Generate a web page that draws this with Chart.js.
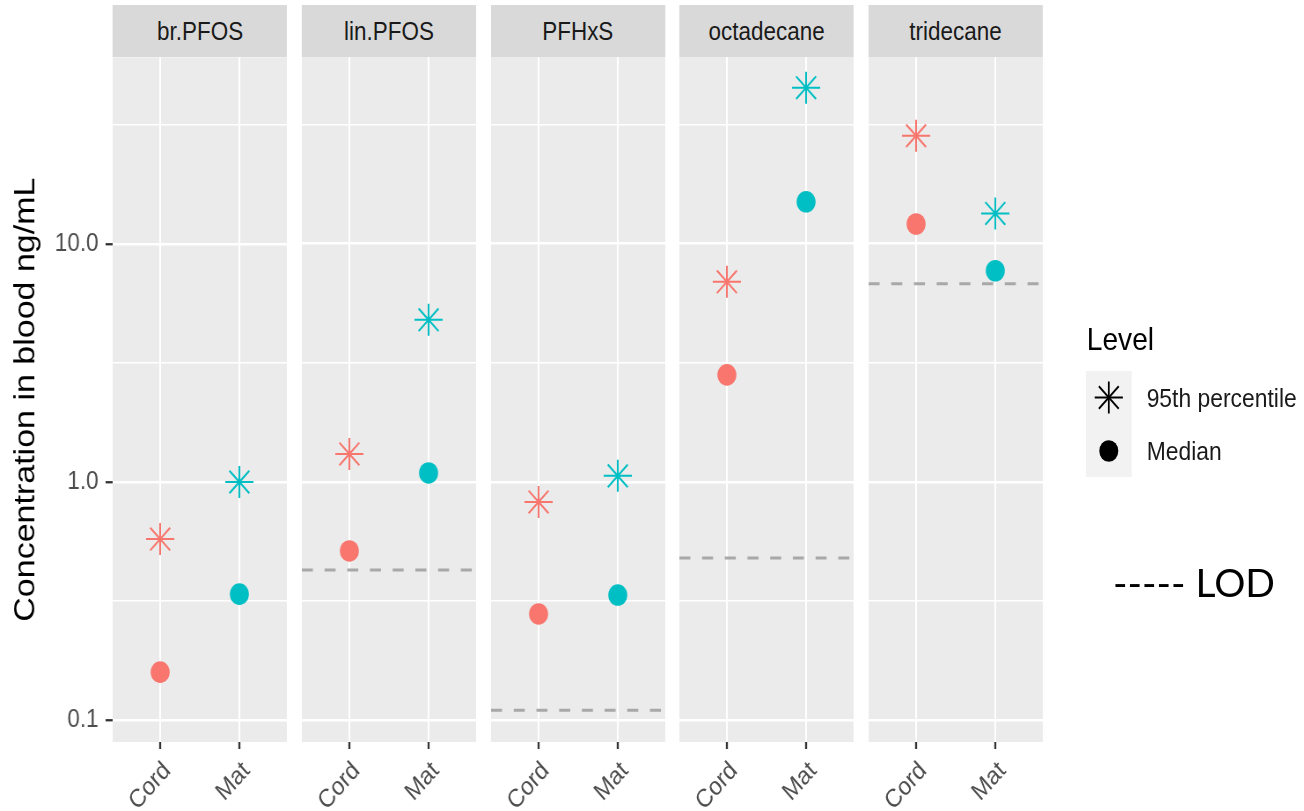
<!DOCTYPE html>
<html><head><meta charset="utf-8">
<script src="https://cdn.jsdelivr.net/npm/chart.js@4.4.1/dist/chart.umd.min.js"></script>
<style>
html,body{margin:0;padding:0;background:#fff;width:1304px;height:811px;overflow:hidden;}
#wrap{position:absolute;left:0;top:0;width:1482px;height:811px;transform:scaleX(0.88);transform-origin:0 0;font-family:"Liberation Sans",Arial,sans-serif;}
.strip{position:absolute;top:5px;height:52px;background:#D9D9D9;color:#1A1A1A;font-size:25.5px;display:flex;align-items:center;justify-content:center;}
canvas{position:absolute;}
.txt{position:absolute;white-space:nowrap;}
#lod{position:absolute;left:1113px;top:557px;line-height:50px;font-family:Lato,"Noto Sans",sans-serif;font-size:39px;color:#000;white-space:pre;}
</style></head>
<body>
<div id="wrap">
  <div class="txt" style="left:1235px;top:321px;line-height:36px;font-size:32px;color:#000;">Level</div>
  <div style="position:absolute;left:1234px;top:371px;width:52px;height:106px;background:#F2F2F2;"></div>
  <svg style="position:absolute;left:1234px;top:371px;" width="52" height="106">
    <g stroke="#000" stroke-width="2">
      <line x1="10" y1="26.5" x2="42" y2="26.5"/>
      <line x1="26" y1="10.5" x2="26" y2="42.5"/>
      <line x1="14.7" y1="15.2" x2="37.3" y2="37.8"/>
      <line x1="14.7" y1="37.8" x2="37.3" y2="15.2"/>
    </g>
    <ellipse cx="26" cy="80" rx="10.8" ry="10.8" fill="#000"/>
  </svg>
  <div class="txt" style="left:1303px;top:383px;line-height:30px;font-size:26px;color:#1A1A1A;">95th percentile</div>
  <div class="txt" style="left:1303px;top:436px;line-height:30px;font-size:26px;color:#1A1A1A;">Median</div>
</div>
<div id="lod">----- LOD</div>
<script>
// ---- data ----
const analytes = ['br.PFOS', 'lin.PFOS', 'PFHxS', 'octadecane', 'tridecane'];
const groups = ['Cord', 'Mat'];
const p95Cord = [0.576, 1.31, 0.824, 6.92, 28.4];
const p95Mat  = [1.0, 4.79, 1.06, 45.2, 13.4];
const medCord = [0.159, 0.513, 0.279, 2.815, 12.1];
const medMat  = [0.338, 1.09, 0.335, 15.0, 7.70];
const lod     = [null, 0.427, 0.110, 0.479, 6.79];
const yTicks = [0.1, 0.31623, 1, 3.1623, 10, 31.623];
const yTickLabels = ['0.1', '', '1.0', '', '10.0', ''];
const yMin = 0.0809, yMax = 60.8;
const groupColors = ['#F8766D', '#00BFC4'];
const yTitle = 'Concentration in blood ng/mL';

// ---- layout ----
const FONT = '"Liberation Sans", Arial, sans-serif';
const panelLeft0 = 128.4, panelStep = 214.6, panelW = 198;
const plotTop = 57, plotBottom = 742, xAxisH = 69, yAxisW = 128;
const wrap = document.getElementById('wrap');

const panelBg = {
  id: 'panelBg',
  beforeDraw(chart) {
    const a = chart.chartArea, c = chart.ctx;
    c.save(); c.fillStyle = '#EBEBEB';
    c.fillRect(a.left, a.top, a.right - a.left, a.bottom - a.top);
    c.restore();
  }
};

function makeConfig(i, first) {
  const isMajor = idx => yTickLabels[idx] !== '';
  return {
    type: 'scatter',
    data: {
      datasets: [
        {
          label: 'LOD',
          data: lod[i] == null ? [] : [{x: 0.4, y: lod[i]}, {x: 2.6, y: lod[i]}],
          showLine: true, borderColor: '#A8A8A8', borderWidth: 3, borderDash: [12.5, 13.3],
          pointRadius: 0, fill: false, order: 3
        },
        {
          label: '95th percentile',
          data: [{x: 1, y: p95Cord[i]}, {x: 2, y: p95Mat[i]}],
          pointStyle: 'star', pointRadius: 16, pointBorderWidth: 2,
          pointBorderColor: groupColors, pointBackgroundColor: groupColors,
          borderColor: groupColors, order: 2
        },
        {
          label: 'Median',
          data: [{x: 1, y: medCord[i]}, {x: 2, y: medMat[i]}],
          pointStyle: 'circle', pointRadius: 10.8, pointBorderWidth: 0,
          pointBorderColor: groupColors, pointBackgroundColor: groupColors,
          borderColor: groupColors, order: 1
        }
      ]
    },
    options: {
      responsive: false, maintainAspectRatio: false, animation: false, events: [],
      layout: {padding: 0},
      plugins: {legend: {display: false}, tooltip: {enabled: false}},
      scales: {
        x: {
          type: 'linear', min: 0.4, max: 2.6,
          afterBuildTicks: s => { s.ticks = groups.map((g, k) => ({value: k + 1})); },
          afterFit: s => { s.height = xAxisH; },
          ticks: {
            callback: v => groups[Math.round(v) - 1] || '',
            color: '#4D4D4D', font: {size: 25.5, family: FONT},
            minRotation: 45, maxRotation: 45, autoSkip: false, padding: 7, labelOffset: 8
          },
          grid: {color: '#FFFFFF', lineWidth: 2, tickColor: '#333333', tickLength: 7, tickWidth: 2.3},
          border: {display: false}
        },
        y: {
          type: 'logarithmic', min: yMin, max: yMax,
          afterBuildTicks: s => { s.ticks = yTicks.map(v => ({value: v})); },
          afterFit: s => { s.width = first ? yAxisW : 0; },
          ticks: {
            display: first,
            callback: (v, idx) => yTickLabels[idx],
            color: '#4D4D4D', font: {size: 25.5, family: FONT}, padding: 8
          },
          grid: {
            color: '#FFFFFF',
            lineWidth: ctx => isMajor(ctx.index) ? 2.5 : 1.4,
            drawTicks: first,
            tickColor: ctx => isMajor(ctx.index) ? '#333333' : 'rgba(0,0,0,0)',
            tickLength: 8, tickWidth: 2.3
          },
          border: {display: false},
          title: {
            display: first, text: yTitle, color: '#000000',
            font: {size: 34, family: FONT}, padding: {top: 9, bottom: 0}
          }
        }
      }
    },
    plugins: [panelBg]
  };
}

analytes.forEach((name, i) => {
  const L = panelLeft0 + i * panelStep;
  const strip = document.createElement('div');
  strip.className = 'strip';
  strip.style.left = L + 'px';
  strip.style.width = panelW + 'px';
  strip.textContent = name;
  wrap.appendChild(strip);

  const first = i === 0;
  // initial canvas box (page coords, pre-scale)
  let cx = first ? L - yAxisW : L;
  let cy = plotTop;
  let cw = first ? yAxisW + panelW : panelW;
  let ch = plotBottom - plotTop + xAxisH;

  let canvas = null, chart = null;
  for (let it = 0; it < 4; it++) {
    if (chart) { chart.destroy(); canvas.remove(); }
    canvas = document.createElement('canvas');
    const w = Math.round(cw), h = Math.round(ch);
    canvas.width = w; canvas.height = h;
    canvas.style.left = cx + 'px'; canvas.style.top = cy + 'px';
    canvas.style.width = w + 'px'; canvas.style.height = h + 'px';
    wrap.appendChild(canvas);
    chart = new Chart(canvas, makeConfig(i, first));
    const a = chart.chartArea;
    const dl = L - (cx + a.left);
    const dr = (L + panelW) - (cx + a.right);
    const dt = plotTop - (cy + a.top);
    const db = plotBottom - (cy + a.bottom);
    if (Math.abs(dl) < 0.6 && Math.abs(dr) < 0.6 && Math.abs(dt) < 0.6 && Math.abs(db) < 0.6) break;
    cx += dl; cw += dr - dl;
    cy += dt; ch += db - dt;
  }
});
</script>
</body></html>
